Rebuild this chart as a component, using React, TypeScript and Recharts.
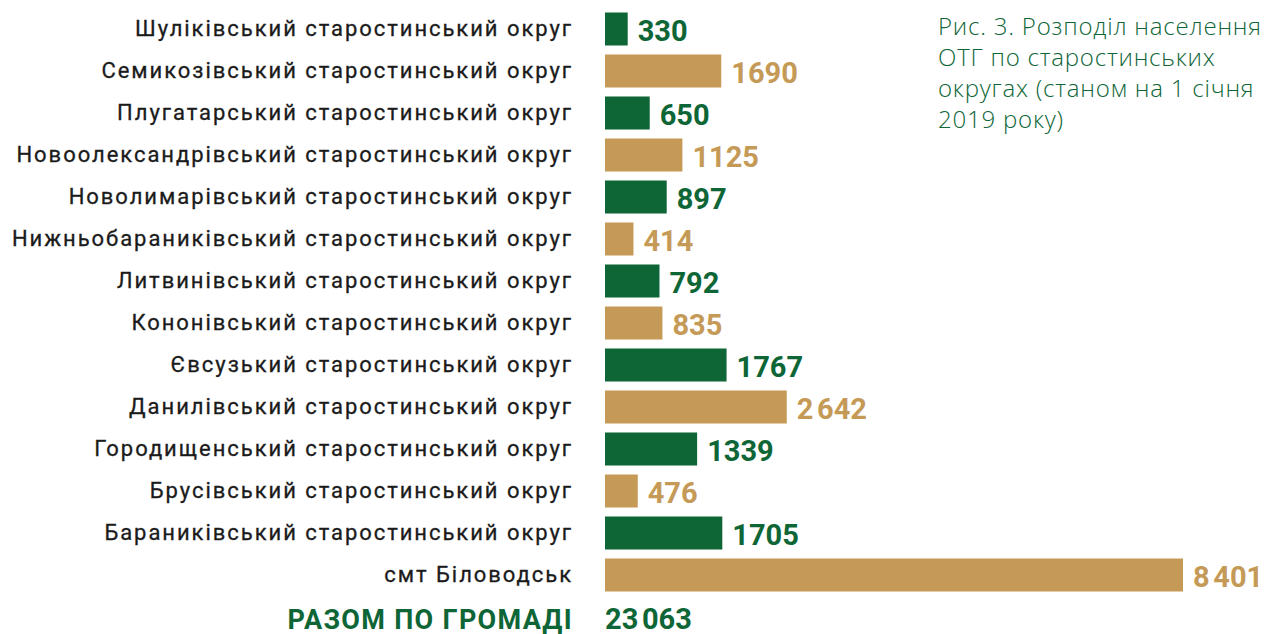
import React from "react";
import { Bar, BarChart, Cell, LabelList, XAxis, YAxis } from "recharts";

const districts = [
  "Шуліківський старостинський округ",
  "Семикозівський старостинський округ",
  "Плугатарський старостинський округ",
  "Новоолександрівський старостинський округ",
  "Новолимарівський старостинський округ",
  "Нижньобараниківський старостинський округ",
  "Литвинівський старостинський округ",
  "Кононівський старостинський округ",
  "Євсузький старостинський округ",
  "Данилівський старостинський округ",
  "Городищенський старостинський округ",
  "Брусівський старостинський округ",
  "Бараниківський старостинський округ",
  "смт Біловодськ",
];

const population = [330, 1690, 650, 1125, 897, 414, 792, 835, 1767, 2642, 1339, 476, 1705, 8401];

const valueLabels = [
  "330", "1690", "650", "1125", "897", "414", "792", "835", "1767", "2\u202F642", "1339", "476", "1705", "8\u202F401",
];

const totalLabel = "РАЗОМ ПО ГРОМАДІ";
const totalValue = "23\u202F063";

const title = ["Рис. 3. Розподіл населення", "ОТГ по старостинських", "округах (станом на 1 січня", "2019 року)"];

const GREEN = "#0e6637";
const GOLD = "#c59a57";

const data = [
  ...districts.map((name, i) => ({ name, value: population[i], label: valueLabels[i] })),
  { name: totalLabel, value: null, label: "" },
];

const CategoryTick = (props: any) => {
  const { x, y, payload } = props;
  if (payload.value === totalLabel) {
    return (
      <g>
        <text x={x} y={y} dy={12} textAnchor="end" fill={GREEN} fontFamily="Roboto" fontWeight={700} fontSize={27} letterSpacing={1.3}>
          {totalLabel}
        </text>
        <text x={x + 32} y={y} dy={12} textAnchor="start" fill={GREEN} fontFamily="Roboto" fontWeight={700} fontSize={29}>
          {totalValue}
        </text>
      </g>
    );
  }
  return (
    <text
      x={x}
      y={y}
      dy={7}
      textAnchor="end"
      fill="#1b1b1b"
      stroke="#1b1b1b"
      strokeWidth={0.3}
      fontFamily="Roboto"
      fontWeight={400}
      fontSize={22}
      letterSpacing={1.95}
    >
      {payload.value}
    </text>
  );
};

const ValueLabel = (props: any) => {
  const { x, y, width, height, value, index } = props;
  if (!value) return null;
  return (
    <text
      x={x + width + 10}
      y={y + height / 2}
      dy={12}
      fill={index % 2 === 0 ? GREEN : GOLD}
      fontFamily="Roboto"
      fontWeight={700}
      fontSize={29}
    >
      {value}
    </text>
  );
};

export default function App() {
  return (
    <div style={{ position: "absolute", left: 0, top: 0, width: 1266, height: 634, background: "#fff" }}>
      <BarChart
        width={1266}
        height={634}
        data={data}
        layout="vertical"
        margin={{ top: 7.5, right: 83, bottom: -3.5, left: 0 }}
        barSize={33}
      >
        <XAxis type="number" hide domain={[0, "dataMax"]} />
        <YAxis
          type="category"
          dataKey="name"
          width={605}
          axisLine={false}
          tickLine={false}
          tickSize={0}
          tickMargin={32}
          tick={<CategoryTick />}
          interval={0}
        />
        <Bar dataKey="value" isAnimationActive={false}>
          {data.map((d, i) => (
            <Cell key={d.name} fill={i % 2 === 0 ? GREEN : GOLD} />
          ))}
          <LabelList dataKey="label" content={<ValueLabel />} />
        </Bar>
      </BarChart>
      <div
        style={{
          position: "absolute",
          left: 938,
          top: 10,
          color: GREEN,
          fontFamily: "'Open Sans'",
          fontWeight: 300,
          fontSize: 24,
          letterSpacing: 0.8,
          lineHeight: "31px",
          whiteSpace: "nowrap",
        }}
      >
        {title.map((t) => (
          <div key={t}>{t}</div>
        ))}
      </div>
    </div>
  );
}
